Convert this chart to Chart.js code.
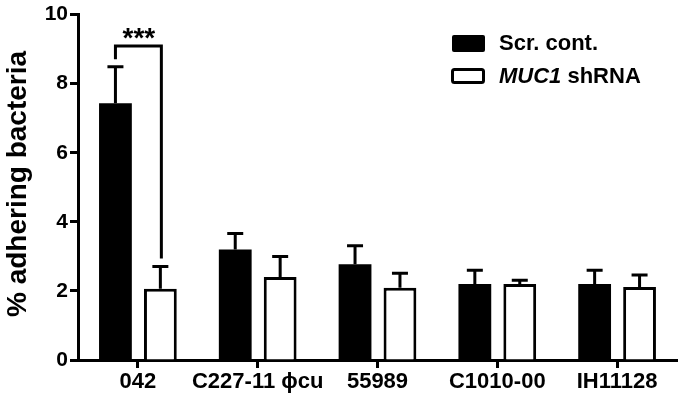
<!DOCTYPE html>
<html>
<head>
<meta charset="utf-8">
<script src="https://cdn.jsdelivr.net/npm/chart.js@4/dist/chart.umd.min.js"></script>
<style>
  html, body { margin: 0; padding: 0; background: #fff; }
  #wrap { width: 680px; height: 401px; position: relative; }
</style>
</head>
<body>
<div id="wrap"><canvas id="grafico"></canvas></div>
<script>
// dados
var cepas = ["042", "C227-11 \u03d5cu", "55989", "C1010-00", "IH11128"];
var rotulos = ["Scr. cont.", "MUC1 shRNA"];
var controle = [7.43, 3.2, 2.77, 2.2, 2.2];
var controleErro = [1.06, 0.46, 0.54, 0.4, 0.4];
var muc1 = [2.06, 2.4, 2.09, 2.2, 2.11];
var muc1Erro = [0.65, 0.6, 0.42, 0.11, 0.35];
var yTicks = [0, 2, 4, 6, 8, 10];
// colchete de significancia (cepa 042): topo, fim da perna esquerda, fim da perna direita
var colchete = { indice: 0, topo: 9.09, esquerda: 8.71, direita: 2.94, texto: "***" };

var FONTE = "'Liberation Sans', Arial, sans-serif";

// barras de erro (so para cima), colchete e legenda
var extras = {
    id: "extras",
    afterDatasetsDraw: function (chart) {
        var ctx = chart.ctx;
        var y = chart.scales.y;
        var erros = [controleErro, muc1Erro];
        ctx.save();
        ctx.strokeStyle = "#000";
        ctx.lineWidth = 3;
        ctx.lineCap = "butt";
        chart.data.datasets.forEach(function (ds, i) {
            var meta = chart.getDatasetMeta(i);
            meta.data.forEach(function (bar, j) {
                var v = ds.data[j];
                var yTop = y.getPixelForValue(v);
                var yErr = y.getPixelForValue(v + erros[i][j]);
                ctx.beginPath();
                ctx.moveTo(bar.x, yTop);
                ctx.lineTo(bar.x, yErr);
                ctx.moveTo(bar.x - 8, yErr);
                ctx.lineTo(bar.x + 8, yErr);
                ctx.stroke();
            });
        });

        // colchete
        var b0 = chart.getDatasetMeta(0).data[colchete.indice];
        var b1 = chart.getDatasetMeta(1).data[colchete.indice];
        var yt = y.getPixelForValue(colchete.topo);
        ctx.beginPath();
        ctx.moveTo(b0.x, y.getPixelForValue(colchete.esquerda));
        ctx.lineTo(b0.x, yt);
        ctx.lineTo(b1.x + 1, yt);
        ctx.lineTo(b1.x + 1, y.getPixelForValue(colchete.direita));
        ctx.stroke();
        ctx.fillStyle = "#000";
        ctx.font = "bold 28px " + FONTE;
        ctx.textAlign = "center";
        ctx.textBaseline = "alphabetic";
        ctx.fillText(colchete.texto, (b0.x + b1.x) / 2 + 1, yt + 1);

        // legenda
        ctx.lineWidth = 3;
        ctx.fillStyle = "#000";
        ctx.beginPath();
        ctx.roundRect(452, 35, 33, 17, 2);
        ctx.fill();
        ctx.fillStyle = "#fff";
        ctx.beginPath();
        ctx.roundRect(452.5, 69.5, 31, 13, 2);
        ctx.fill();
        ctx.stroke();
        ctx.fillStyle = "#000";
        ctx.textAlign = "left";
        ctx.textBaseline = "middle";
        ctx.font = "bold 22px " + FONTE;
        ctx.fillText(rotulos[0], 499, 44);
        var partes = rotulos[1].split(" ");
        ctx.font = "italic bold 22px " + FONTE;
        ctx.fillText(partes[0], 499, 77);
        var w = ctx.measureText(partes[0] + " ").width;
        ctx.font = "bold 22px " + FONTE;
        ctx.fillText(partes.slice(1).join(" "), 499 + w, 77);

        // titulo do eixo y
        ctx.save();
        ctx.translate(18, 184);
        ctx.rotate(-Math.PI / 2);
        ctx.textAlign = "center";
        ctx.textBaseline = "middle";
        ctx.font = "bold 28px " + FONTE;
        ctx.fillText("% adhering bacteria", 0, 0);
        ctx.restore();

        ctx.restore();
    }
};

new Chart(document.getElementById("grafico"), {
    type: "bar",
    data: {
        labels: cepas,
        datasets: [{
            label: rotulos[0],
            data: controle,
            backgroundColor: "#000",
            borderColor: "#000",
            borderWidth: 0,
            categoryPercentage: 0.75,
            barPercentage: 0.73
        }, {
            label: rotulos[1],
            data: muc1,
            backgroundColor: "#fff",
            borderColor: "#000",
            borderWidth: 3,
            categoryPercentage: 0.75,
            barPercentage: 0.73
        }]
    },
    options: {
        responsive: true,
        maintainAspectRatio: false,
        animation: false,
        layout: { padding: { left: 0, top: 10, right: 3, bottom: 0 } },
        plugins: {
            legend: { display: false },
            tooltip: { enabled: false }
        },
        scales: {
            x: {
                afterFit: function (s) { s.height = 41; },
                grid: {
                    offset: false,
                    drawOnChartArea: false,
                    drawTicks: true,
                    tickLength: 8,
                    tickWidth: 3,
                    color: "#000"
                },
                border: { display: true, color: "#000", width: 3 },
                ticks: {
                    color: "#000",
                    padding: 1,
                    maxRotation: 0,
                    autoSkip: false,
                    font: { family: FONTE, size: 22, weight: "bold" }
                }
            },
            y: {
                min: 0,
                max: 10,
                afterFit: function (s) { s.width = 78; },
                afterBuildTicks: function (s) {
                    s.ticks = yTicks.map(function (v) { return { value: v }; });
                },
                grid: {
                    drawOnChartArea: false,
                    drawTicks: true,
                    tickLength: 8,
                    tickWidth: 3,
                    color: "#000"
                },
                border: { display: true, color: "#000", width: 3 },
                ticks: {
                    color: "#000",
                    padding: 2,
                    font: { family: FONTE, size: 21, weight: "bold" }
                }
            }
        }
    },
    plugins: [extras]
});
</script>
</body>
</html>
